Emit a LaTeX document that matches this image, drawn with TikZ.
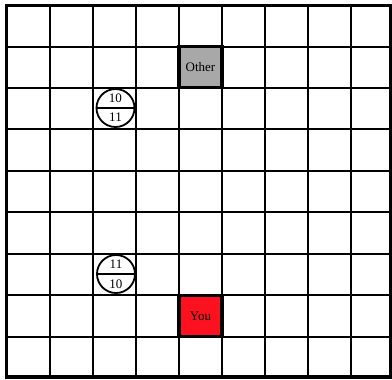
\documentclass[tikz,border=0pt]{standalone}
\usepackage{fontspec}
\setmainfont{Liberation Serif}
\definecolor{othergray}{RGB}{168,168,168}
\definecolor{youred}{RGB}{252,18,30}
\begin{document}
\begin{tikzpicture}[x=1pt,y=-1pt,
  gridline/.style={line width=2pt,black},
  border/.style={line width=3.5pt,black},
  player/.style={draw=black,line width=3.5pt,minimum width=43pt,minimum height=41pt,inner sep=0pt,font=\fontsize{13}{15}\selectfont},
  token/.style={draw=black,line width=1.8pt,circle,minimum size=38pt,inner sep=0pt},
  num/.style={font=\fontsize{13}{15}\selectfont,inner sep=0pt}]
\useasboundingbox (0,0) rectangle (392,380);
\fill[white] (0,0) rectangle (392,380);
\foreach \x in {50,93,136,179,222,265,308,351} \draw[gridline] (\x,5.5) -- (\x,377);
\foreach \y in {46.5,87.5,129,170.5,212,253.5,295,336.5} \draw[gridline] (6.5,\y) -- (391,\y);
\draw[border] (6.5,5.5) rectangle (391,377);
% players
\node[player,fill=othergray] (other) at (200.5,67) {Other};
\node[player,fill=youred] (you) at (200.5,316) {You};
% tokens
\node[token] (t1) at (115.5,108) {};
\draw[line width=1.6pt] (t1.west) -- (t1.east);
\node[num] (t1a) at (115.5,98) {10};
\node[num] (t1b) at (115.5,117.5) {11};
\node[token] (t2) at (116,274) {};
\draw[line width=1.6pt] (t2.west) -- (t2.east);
\node[num] (t2a) at (116,264.5) {11};
\node[num] (t2b) at (116,284) {10};
\end{tikzpicture}
\end{document}
